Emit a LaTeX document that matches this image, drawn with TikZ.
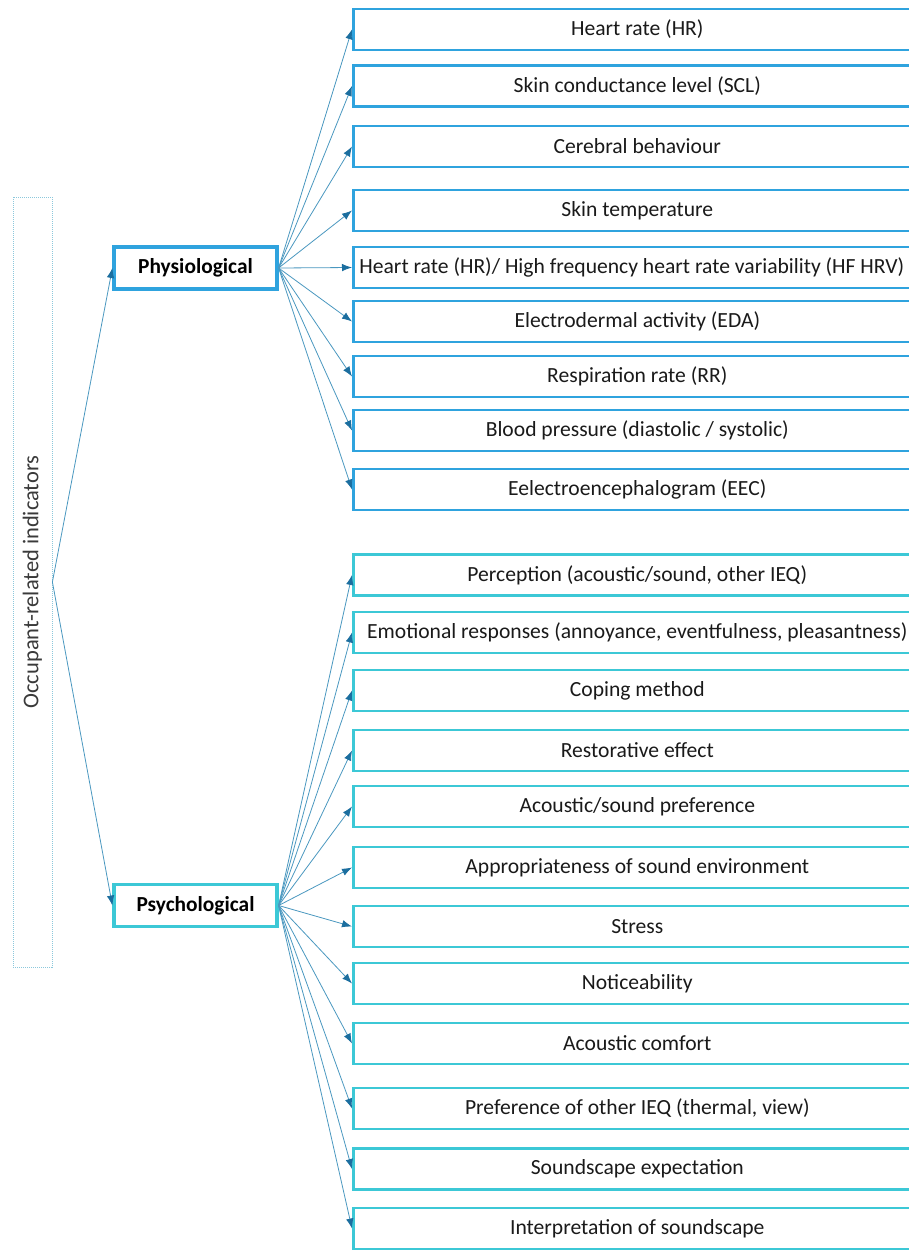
\documentclass[tikz,border=0pt]{standalone}
\usepackage{fontspec}
\setmainfont{Carlito}
\usetikzlibrary{arrows.meta}
\definecolor{physc}{HTML}{2FA3DE}
\definecolor{psyc}{HTML}{3CC8D6}
\definecolor{linec}{HTML}{4A98C0}
\definecolor{tipc}{HTML}{1B6E9F}
\definecolor{txtc}{HTML}{1A1A1A}
\definecolor{occc}{HTML}{8CC8DC}
\definecolor{occtxt}{HTML}{3A3A3A}
\newcommand\bxt[2][568]{\makebox[#1pt][c]{#2}\hspace*{\dimexpr600pt-#1pt\relax}}
\begin{document}
\begin{tikzpicture}[x=1pt,y=-1pt,
  font=\fontsize{21.6}{25}\selectfont,
  leaf/.style={draw, line width=2.6pt, minimum height=41pt, inner sep=0pt, anchor=west, text=txtc},
  pleaf/.style={leaf, draw=physc},
  sleaf/.style={leaf, draw=psyc},
  mainbox/.style={draw, line width=3.2pt, minimum width=163pt, minimum height=42pt, inner sep=0pt, font=\fontsize{21.4}{25}\selectfont\bfseries, text=black},
  conn/.style={draw=linec, line width=0.8pt, -{Latex[length=10pt,width=7.5pt,color=tipc]}},
  occbox/.style={draw=occc, dash pattern=on 1pt off 1pt, line width=0.8pt, rotate=90, minimum width=770pt, minimum height=39pt, inner sep=0pt, text=occtxt, font=\fontsize{22.5}{26}\selectfont}
]
\useasboundingbox (0,0) rectangle (909,1250);
\clip (0,0) rectangle (909,1250);
\fill[white] (0,0) rectangle (909,1250);

% left box
\node[occbox] (occ) at (32.5,582) {Occupant-related indicators};

% main boxes
\node[mainbox, draw=physc] (phys) at (195.5,268) {Physiological};
\node[mainbox, draw=psyc] (psych) at (195.5,905.5) {Psychological};

% physiological leaves
\node[pleaf] (p1) at (352,29.3) {\bxt{Heart rate (HR)}};
\node[pleaf] (p2) at (352,86) {\bxt{Skin conductance level (SCL)}};
\node[pleaf] (p3) at (352,146.5) {\bxt{Cerebral behaviour}};
\node[pleaf] (p4) at (352,210.5) {\bxt{Skin temperature}};
\node[pleaf] (p5) at (352,267.5) {\bxt[557]{Heart rate (HR)/ High frequency heart rate variability (HF HRV)}};
\node[pleaf] (p6) at (352,321.5) {\bxt{Electrodermal activity (EDA)}};
\node[pleaf] (p7) at (352,376.5) {\bxt{Respiration rate (RR)}};
\node[pleaf] (p8) at (352,430.5) {\bxt{Blood pressure (diastolic / systolic)}};
\node[pleaf] (p9) at (352,489.5) {\bxt{Eelectroencephalogram (EEC)}};

% psychological leaves
\node[sleaf] (s1) at (352,575) {\bxt{Perception (acoustic/sound, other IEQ)}};
\node[sleaf] (s2) at (352,632.5) {\bxt{Emotional responses (annoyance, eventfulness, pleasantness)}};
\node[sleaf] (s3) at (352,690.5) {\bxt{Coping method}};
\node[sleaf] (s4) at (352,750.5) {\bxt{Restorative effect}};
\node[sleaf] (s5) at (352,806.5) {\bxt{Acoustic/sound preference}};
\node[sleaf] (s6) at (352,867.5) {\bxt{Appropriateness of sound environment}};
\node[sleaf] (s7) at (352,926.5) {\bxt{Stress}};
\node[sleaf] (s8) at (352,983.5) {\bxt{Noticeability}};
\node[sleaf] (s9) at (352,1043.5) {\bxt{Acoustic comfort}};
\node[sleaf] (s10) at (352,1108.5) {\bxt{Preference of other IEQ (thermal, view)}};
\node[sleaf] (s11) at (352,1169) {\bxt{Soundscape expectation}};
\node[sleaf] (s12) at (352,1228.5) {\bxt{Interpretation of soundscape}};

% connectors
\draw[conn] (occ.south) -- (phys.west);
\draw[conn] (occ.south) -- (psych.west);
\foreach \i in {1,...,9} {\draw[conn] (phys.east) -- (p\i.west);}
\foreach \i in {1,...,12} {\draw[conn] (psych.east) -- (s\i.west);}
\end{tikzpicture}
\end{document}
